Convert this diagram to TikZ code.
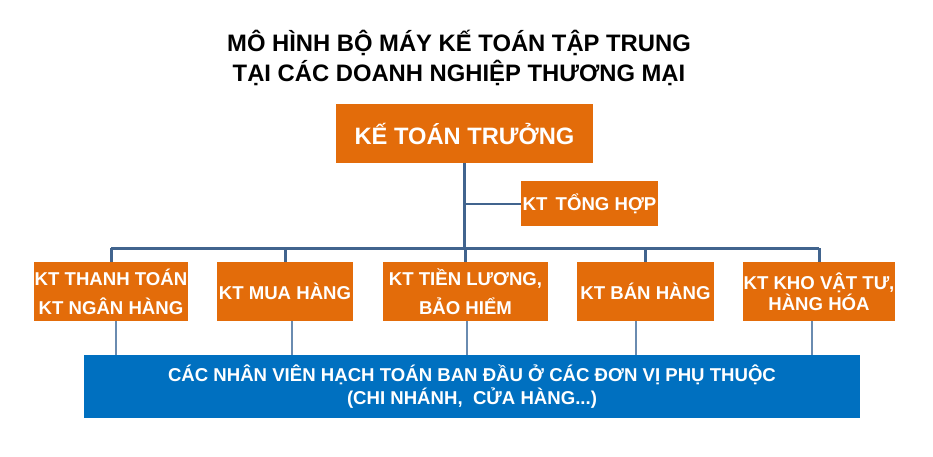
\documentclass[tikz,border=0pt]{standalone}
\usepackage{fontspec}
\setmainfont{Liberation Sans}
\definecolor{orangebox}{HTML}{E36C0A}
\definecolor{bluebox}{HTML}{0070C0}
\definecolor{linedark}{HTML}{41648E}
\definecolor{linelight}{HTML}{6A8BB0}
\begin{document}
\begin{tikzpicture}[x=1pt,y=-1pt,
  obox/.style={fill=orangebox, text=white, align=center, inner sep=0pt,
    font=\bfseries\fontsize{18.6}{29}\selectfont},
  bbox/.style={fill=bluebox, text=white, align=center, inner sep=0pt,
    font=\bfseries\fontsize{18.6}{23}\selectfont},
  topline/.style={draw=linedark, line width=3pt},
  lowline/.style={draw=linelight, line width=2pt},
  titletext/.style={align=center, inner sep=0pt, font=\bfseries\fontsize{23.8}{30}\selectfont}]
\useasboundingbox (0,0) rectangle (933,456);
\fill[white] (0,0) rectangle (933,456);
% title
\node[titletext] (title) at (459,58) {MÔ HÌNH BỘ MÁY KẾ TOÁN TẬP TRUNG\\TẠI CÁC DOANH NGHIỆP THƯƠNG MẠI};
% boxes
\node[obox, minimum width=257, minimum height=59, font=\bfseries\fontsize{23.7}{26}\selectfont] (ktt) at (464.5,133.5) {KẾ TOÁN TRƯỞNG};
\node[obox, minimum width=137, minimum height=45] (th) at (589.5,203.5) {KT\, TỔNG HỢP};
\node[obox, minimum width=154, minimum height=59] (b1) at (111,291.5) {KT THANH TOÁN\\KT NGÂN HÀNG};
\node[obox, minimum width=136, minimum height=59] (b2) at (285,291.5) {KT MUA HÀNG};
\node[obox, minimum width=165, minimum height=59] (b3) at (465.5,291.5) {KT TIỀN LƯƠNG,\\BẢO HIỂM};
\node[obox, minimum width=137, minimum height=59] (b4) at (645.5,291.5) {KT BÁN HÀNG};
\node[obox, minimum width=152, minimum height=59, font=\bfseries\fontsize{18.6}{21}\selectfont] (b5) at (819,291.5) {KT KHO VẬT TƯ,\\HÀNG HÓA};
\node[bbox, minimum width=776, minimum height=63] (nv) at (472,386.5) {CÁC NHÂN VIÊN HẠCH TOÁN BAN ĐẦU Ở CÁC ĐƠN VỊ PHỤ THUỘC\\(CHI NHÁNH,\ \ CỬA HÀNG...)};
% connectors
\coordinate (bus) at (464.5,248);
\coordinate (thj) at (464.5,203.5);
\draw[topline] (ktt.south) -- (bus);
\draw[topline, line width=2pt] (thj) -- (th.west);
\draw[topline] (b1.north |- bus) -- (b5.north |- bus);
\foreach \b in {b1,b2,b3,b4,b5} {
  \draw[topline] (\b.north |- bus) -- (\b.north);
}
\draw[lowline] ([xshift=5pt]b1.south) -- ([xshift=5pt]b1.south |- nv.north);
\draw[lowline] ([xshift=7pt]b2.south) -- ([xshift=7pt]b2.south |- nv.north);
\draw[lowline] ([xshift=1.5pt]b3.south) -- ([xshift=1.5pt]b3.south |- nv.north);
\draw[lowline] ([xshift=-9.5pt]b4.south) -- ([xshift=-9.5pt]b4.south |- nv.north);
\draw[lowline] ([xshift=-7pt]b5.south) -- ([xshift=-7pt]b5.south |- nv.north);
\end{tikzpicture}
\end{document}
